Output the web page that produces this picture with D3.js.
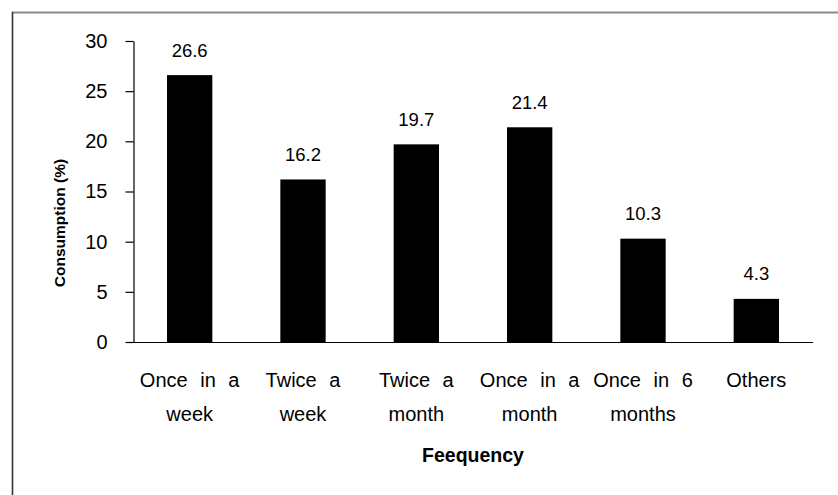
<!DOCTYPE html>
<html>
<head>
<meta charset="utf-8">
<script src="https://cdn.jsdelivr.net/npm/d3@7"></script>
<style>
  html, body { margin: 0; padding: 0; background: #fff; }
  svg { display: block; font-family: "Liberation Sans", Arial, sans-serif; }
</style>
</head>
<body>
<svg id="chart" width="838" height="495"></svg>
<script>
// Consumption share by frequency
const categories = [
  "Once in a week",
  "Twice a week",
  "Twice a month",
  "Once in a month",
  "Once in 6 months",
  "Others"
];
// Each category label is printed on two lines
const categoryLines = [
  ["Once in a", "week"],
  ["Twice a", "week"],
  ["Twice a", "month"],
  ["Once in a", "month"],
  ["Once in 6", "months"],
  ["Others"]
];
const values = [26.6, 16.2, 19.7, 21.4, 10.3, 4.3];
const yTicks = [0, 5, 10, 15, 20, 25, 30];

const svg = d3.select("#chart");

// Frame lines (top and left edges of the figure box)
svg.append("line")
  .attr("x1", 12).attr("x2", 838).attr("y1", 12.5).attr("y2", 12.5)
  .attr("stroke", "#8c8c8c").attr("stroke-width", 2);
svg.append("line")
  .attr("x1", 12.5).attr("x2", 12.5).attr("y1", 12).attr("y2", 495)
  .attr("stroke", "#333").attr("stroke-width", 1.6);

const plotLeft = 133, plotRight = 813, plotTop = 41, plotBottom = 342;

const x = d3.scaleBand()
  .domain(categories)
  .range([plotLeft, plotRight])
  .paddingInner(0.6)
  .paddingOuter(0.3);

const y = d3.scaleLinear()
  .domain([0, 30])
  .range([plotBottom, plotTop]);

// Bars
svg.append("g")
  .selectAll("rect")
  .data(values)
  .join("rect")
  .attr("x", (d, i) => x(categories[i]))
  .attr("width", x.bandwidth())
  .attr("y", d => y(d))
  .attr("height", d => y(0) - y(d))
  .attr("fill", "#000");

// Y axis
const yAxis = svg.append("g")
  .attr("transform", `translate(${plotLeft + 0.5},0)`)
  .call(d3.axisLeft(y).tickValues(yTicks).tickSize(8).tickPadding(18).tickSizeOuter(0));
yAxis.select(".domain").attr("stroke", "#000").attr("stroke-width", 1.2);
yAxis.selectAll(".tick line").attr("stroke", "#000").attr("stroke-width", 1.2);
yAxis.selectAll(".tick text")
  .attr("font-size", 20)
  .attr("font-family", "Liberation Sans, Arial, sans-serif")
  .attr("fill", "#000");

// X axis baseline
svg.append("line")
  .attr("x1", plotLeft).attr("x2", plotRight)
  .attr("y1", y(0) + 0.5).attr("y2", y(0) + 0.5)
  .attr("stroke", "#000").attr("stroke-width", 1.2);

// Value labels above bars
svg.append("g")
  .selectAll("text")
  .data(values)
  .join("text")
  .attr("x", (d, i) => x(categories[i]) + x.bandwidth() / 2)
  .attr("y", d => y(d) - 18.5)
  .attr("text-anchor", "middle")
  .attr("font-size", 18.5)
  .attr("fill", "#000")
  .text(d => d.toFixed(1));

// Category labels
const catG = svg.append("g");
categoryLines.forEach((lines, i) => {
  const cx = x(categories[i]) + x.bandwidth() / 2;
  lines.forEach((t, j) => {
    catG.append("text")
      .attr("x", cx)
      .attr("y", plotBottom + 45 + j * 34)
      .attr("text-anchor", "middle")
      .attr("font-size", 20)
      .attr("word-spacing", 7)
      .attr("fill", "#000")
      .text(t);
  });
});

// Axis titles
svg.append("text")
  .attr("x", (plotLeft + plotRight) / 2)
  .attr("y", 462)
  .attr("text-anchor", "middle")
  .attr("font-size", 19.5)
  .attr("font-weight", "bold")
  .attr("fill", "#000")
  .text("Feequency");

svg.append("text")
  .attr("transform", "translate(65,223) rotate(-90)")
  .attr("text-anchor", "middle")
  .attr("font-size", 15.5)
  .attr("font-weight", "bold")
  .attr("fill", "#000")
  .text("Consumption (%)");
</script>
</body>
</html>
